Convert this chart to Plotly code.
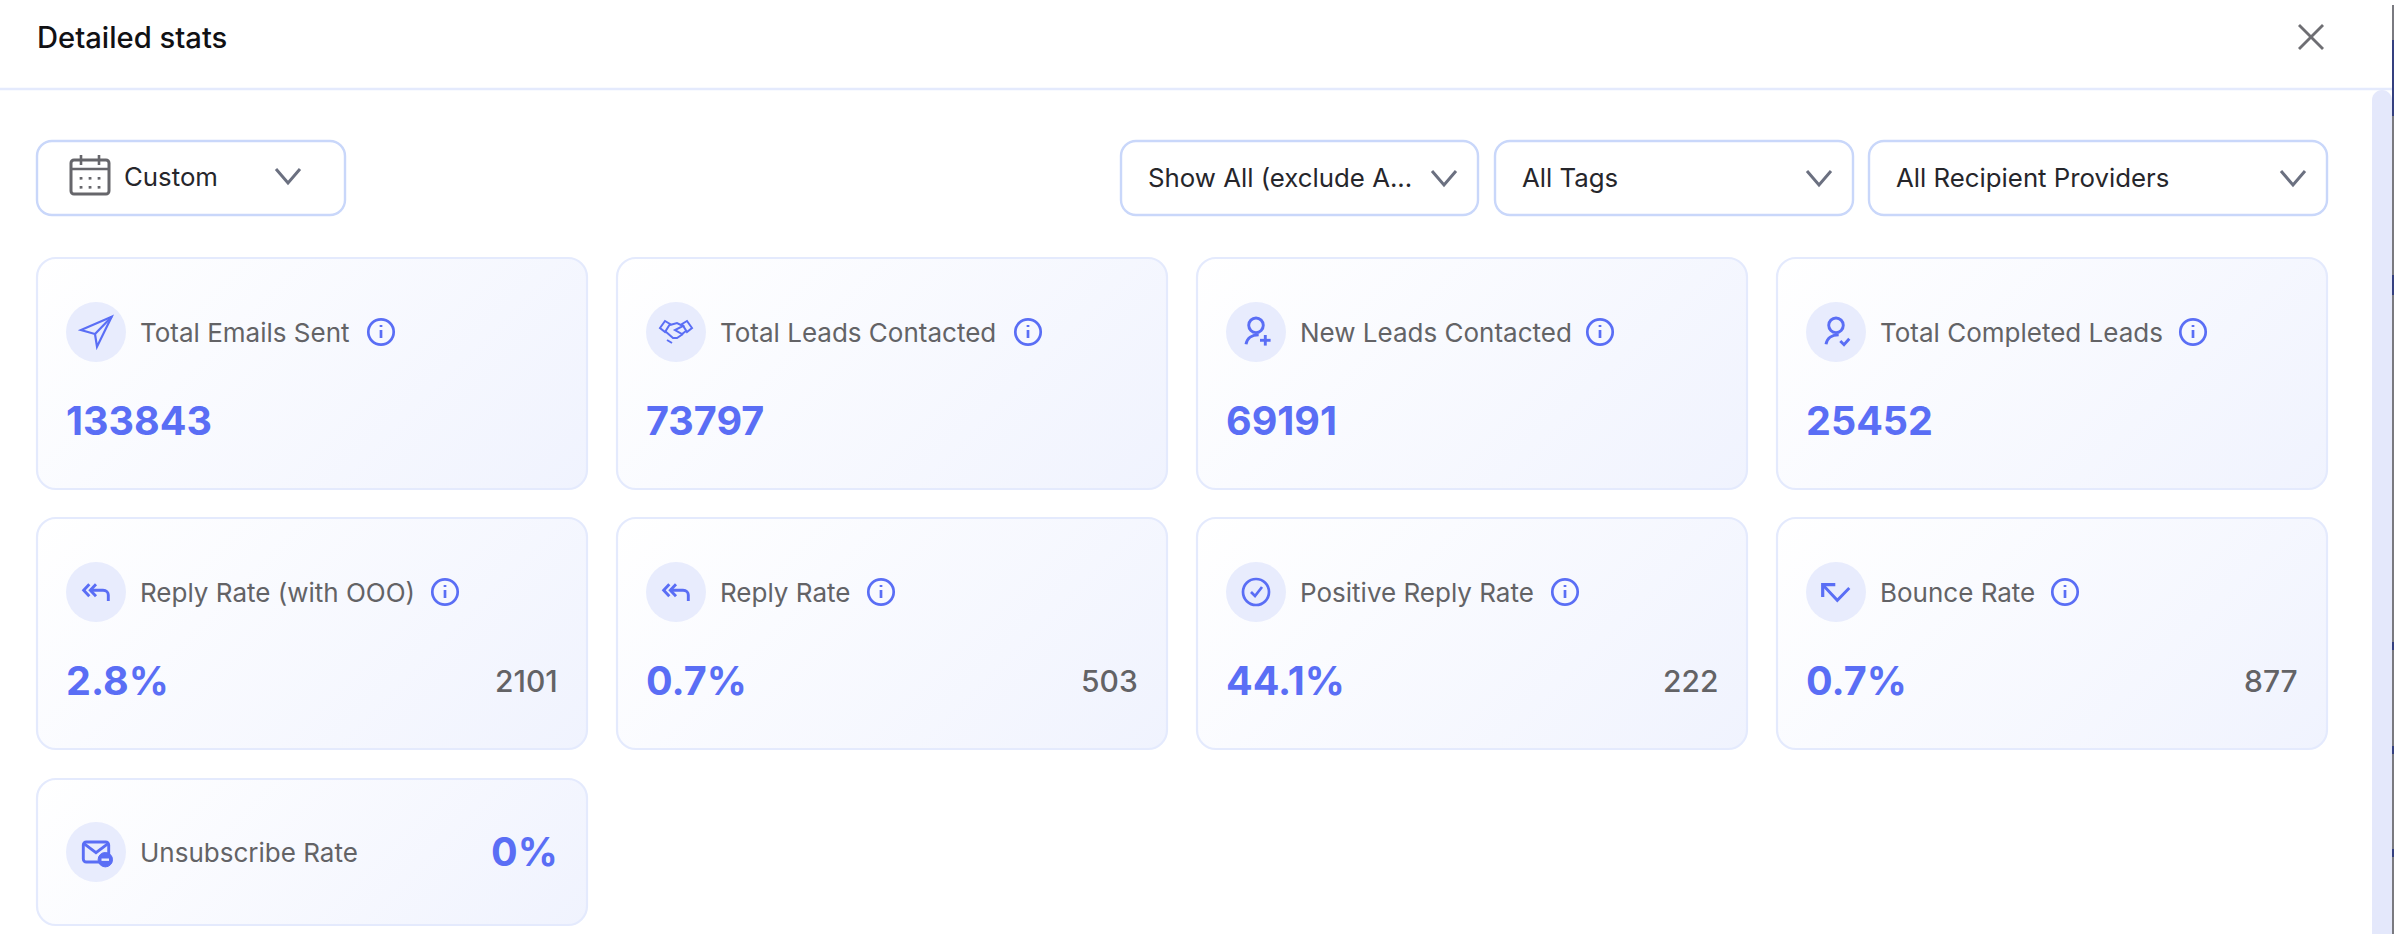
import base64
import plotly.graph_objects as go

# ======================================================================
#                       DATA
# ======================================================================

title_text = "Detailed stats"
date_filter = "Custom"
filter_labels = ["Show All (exclude A...", "All Tags", "All Recipient Providers"]

top_labels = ["Total Emails Sent", "Total Leads Contacted", "New Leads Contacted", "Total Completed Leads"]
top_values = ["133843", "73797", "69191", "25452"]

rate_labels = ["Reply Rate (with OOO)", "Reply Rate", "Positive Reply Rate", "Bounce Rate"]
rate_values = ["2.8%", "0.7%", "44.1%", "0.7%"]
rate_counts = ["2101", "503", "222", "877"]

unsub_label = "Unsubscribe Rate"
unsub_value = "0%"

# ======================================================================
#                       LAYOUT CONSTANTS
# ======================================================================

W, H = 2394, 934
FONT = "Inter"
BLUE = "#5A6EF5"
GREY = "#636366"
TEXT_DARK = "#26262B"
BORDER = "#E4EAFD"
FILTER_BORDER = "#C9D7FA"
ICON_BG = "#E8ECFD"

LABEL_SIZE = 26
FILTER_SIZE = 25.8

CARD_X = [37, 617, 1197, 1777]
CARD_W = 550
ROWS = [(258, 231), (518, 231), (779, 146)]

# info icon centre, measured from the card's left edge
top_info_dx = [344, 411, 403, 416]
rate_info_dx = [408, 264, 368, 288]

shapes, annotations, images = [], [], []


def rrect(x0, y0, x1, y1, r):
    k = r * 0.45
    return (f"M{x0 + r},{y0} L{x1 - r},{y0} C{x1 - k},{y0} {x1},{y0 + k} {x1},{y0 + r} "
            f"L{x1},{y1 - r} C{x1},{y1 - k} {x1 - k},{y1} {x1 - r},{y1} "
            f"L{x0 + r},{y1} C{x0 + k},{y1} {x0},{y1 - k} {x0},{y1 - r} "
            f"L{x0},{y0 + r} C{x0},{y0 + k} {x0 + k},{y0} {x0 + r},{y0} Z")


def add_path(path, color=BLUE, width=2.5, fill=None):
    shapes.append(dict(type="path", path=path, xref="x", yref="y", layer="above",
                       line=dict(color=color, width=width), fillcolor=fill or "rgba(0,0,0,0)"))


def poly(cx, cy, pts, color=BLUE, width=2.5, close=False, fill=None):
    d = "M" + " L".join(f"{cx + a},{cy + b}" for a, b in pts)
    add_path(d + (" Z" if close else ""), color, width, fill)


def circle(cx, cy, r, color=BLUE, width=2.5, fill=None):
    shapes.append(dict(type="circle", xref="x", yref="y", x0=cx - r, x1=cx + r, y0=cy - r, y1=cy + r,
                       layer="above", line=dict(color=color, width=width),
                       fillcolor=fill or "rgba(0,0,0,0)"))


def text(x, y, s, size, color=GREY, weight=400, anchor="left"):
    annotations.append(dict(x=x, y=y, xref="x", yref="y", text=s, showarrow=False, xanchor=anchor,
                            yanchor="middle", borderpad=0, borderwidth=0,
                            font=dict(family=FONT, size=size, color=color, weight=weight)))


def chevron(cx, cy, hw=12, hh=7, color="#6B7080"):
    poly(cx, cy, [(-hw, -hh), (0, hh), (hw, -hh)], color, 3)


def card_background(x, y, w, h):
    # plotly shapes have no gradient fill, so the 135deg tint goes in as a layout image
    half = (w + h) / 4
    x1, y1, x2, y2 = w / 2 - half, h / 2 - half, w / 2 + half, h / 2 + half
    svg = (f'<svg xmlns="http://www.w3.org/2000/svg" width="{w}" height="{h}" viewBox="0 0 {w} {h}">'
           f'<defs><linearGradient id="g" gradientUnits="userSpaceOnUse" x1="{x1}" y1="{y1}" x2="{x2}" y2="{y2}">'
           '<stop offset="0" stop-color="#FFFFFF"/><stop offset="1" stop-color="#F0F3FE"/>'
           '</linearGradient></defs>'
           f'<rect x="0" y="0" width="{w}" height="{h}" rx="19" ry="19" fill="url(#g)"/></svg>')
    src = "data:image/svg+xml;base64," + base64.b64encode(svg.encode()).decode()
    images.append(dict(source=src, xref="x", yref="y", x=x, y=y, sizex=w, sizey=h,
                       xanchor="left", yanchor="top", sizing="stretch", layer="below"))
    add_path(rrect(x, y, x + w, y + h, 19), BORDER, 2.2)


# ======================================================================
#                       ICONS
# ======================================================================

def icon_plane(c, d):
    poly(c, d, [(15.7, -15.3), (-15, -2), (-1, 2), (1, 14.7)], close=True, width=2.2)
    poly(c, d, [(15.7, -15.3), (-1, 2)], width=2.2)


def icon_hands(c, d):
    poly(c, d, [(-16, -4), (-11, -11), (-6, -8), (-11, 0)], close=True, width=2)
    poly(c, d, [(16, -4), (11, -11), (6, -8), (11, 0)], close=True, width=2)
    poly(c, d, [(-6, -7), (1, -9), (7, -6), (-1, -2), (6, 2), (10, -1)], width=2)
    poly(c, d, [(-11, -1), (-3, 6), (1, 6), (7, 2)], width=2)
    poly(c, d, [(-9, 8), (-4, 11)], width=2)


def icon_person(c, d):
    circle(c, d - 6.7, 7.3, width=2.9)
    add_path(f"M{c - 10},{d + 12.3} C{c - 9},{d + 6} {c - 4},{d + 2.7} {c + 2.7},{d + 2.7}", width=2.9)


def icon_person_plus(c, d):
    icon_person(c, d)
    poly(c, d, [(4, 8.3), (14.6, 8.3)], width=2.9)
    poly(c, d, [(9.3, 3), (9.3, 13.6)], width=2.9)


def icon_person_check(c, d):
    icon_person(c, d)
    poly(c, d, [(4.3, 9), (8, 12.7), (13.3, 6.7)], width=2.9)


def icon_reply(c, d):
    poly(c, d, [(-6.7, -7.7), (-12.3, -1.7), (-6.7, 4.3)], width=2.9)
    poly(c, d, [(0, -7.7), (-5.7, -1.7), (0, 4.3)], width=2.9)
    add_path(f"M{c - 5.7},{d - 1.7} L{c + 7},{d - 1.7} C{c + 10.5},{d - 1.7} {c + 12.3},{d + 0.5} "
             f"{c + 12.3},{d + 3} L{c + 12.3},{d + 9}", width=2.9)


def icon_check(c, d):
    circle(c, d, 13, width=2.7)
    poly(c, d, [(-5, 0), (-1, 4), (6, -5)], width=2.7)


def icon_bounce(c, d):
    poly(c, d, [(-13.3, 5), (-13.3, -7.3), (-0.7, -7.3)], width=3.2)
    poly(c, d, [(-13.3, -7.3), (1.3, 8.3), (13.3, -4)], width=2.9)


def icon_unsub(c, d):
    add_path(rrect(c - 12.7, d - 10, c + 12.7, d + 10, 3), width=2.9)
    poly(c, d, [(-12, -8.3), (0, 0.7), (12, -8.3)], width=2.9)
    circle(c + 9.3, d + 7.7, 7.2, color=BLUE, width=1, fill=BLUE)
    poly(c, d, [(5.5, 7.7), (13, 7.7)], color=ICON_BG, width=2.4)


def icon_info(c, d):
    circle(c, d, 12.7, width=2.7)
    poly(c, d, [(0, -2), (0, 6)], width=2.7)
    poly(c, d, [(0, -7), (0, -5)], width=2.7)


def icon_calendar(cx, cy):
    col = "#66666B"
    add_path(rrect(cx - 19, cy - 16, cx + 19, cy + 18, 3), col, 3)
    poly(cx, cy, [(-19, -7), (19, -7)], col, 2.6)
    for dx in (-9, 9):
        poly(cx, cy, [(dx, -21), (dx, -11)], col, 2.6)
    for dx in (-9, 0, 9):
        for dy in (1, 10):
            poly(cx, cy, [(dx, dy), (dx + 0.1, dy + 2.6)], col, 2.8)


top_icons = [icon_plane, icon_hands, icon_person_plus, icon_person_check]
rate_icons = [icon_reply, icon_reply, icon_check, icon_bounce]

# ======================================================================
#                       HEADER AND FILTERS
# ======================================================================

text(37, 37, title_text, 29.2, "#111114", 500)
poly(2311, 37, [(-12, -12), (12, 12)], "#6E6E73", 2.8)
poly(2311, 37, [(-12, 12), (12, -12)], "#6E6E73", 2.8)
shapes.append(dict(type="line", xref="x", yref="y", x0=0, x1=2392, y0=89, y1=89,
                   line=dict(color=BORDER, width=2.4)))

# scrollbar and the strip of window edge behind it
add_path(rrect(2372, 90, 2392, 1000, 10), "rgba(0,0,0,0)", 0, "#E4E8FB")
shapes.append(dict(type="rect", xref="x", yref="y", x0=2392, x1=2394, y0=5, y1=H,
                   line=dict(width=0), fillcolor="#7A7A80", layer="above"))
for y0, y1 in [(40, 116), (275, 295), (642, 650), (746, 754), (849, 857)]:
    shapes.append(dict(type="rect", xref="x", yref="y", x0=2392, x1=2394, y0=y0, y1=y1,
                       line=dict(width=0), fillcolor="#35407F", layer="above"))

add_path(rrect(37, 141, 345, 215, 15), FILTER_BORDER, 2.4, "#FFFFFF")
icon_calendar(90, 176)
text(124, 176.5, date_filter, FILTER_SIZE, TEXT_DARK, 400)
chevron(288, 176)

filter_boxes = [(1121, 1478), (1495, 1853), (1869, 2327)]
for (x0, x1), label in zip(filter_boxes, filter_labels):
    add_path(rrect(x0, 141, x1, 215, 15), FILTER_BORDER, 2.4, "#FFFFFF")
    text(x0 + 27, 177.5, label, FILTER_SIZE, TEXT_DARK, 400)
    chevron(x1 - 34, 178)

# ======================================================================
#                       CARDS
# ======================================================================

for i in range(4):
    x, (y, h) = CARD_X[i], ROWS[0]
    card_background(x, y, CARD_W, h)
    circle(x + 59, y + 74, 30, color=ICON_BG, width=0, fill=ICON_BG)
    top_icons[i](x + 59, y + 74)
    text(x + 103, y + 74, top_labels[i], LABEL_SIZE)
    icon_info(x + top_info_dx[i], y + 74)
    text(x + 29, y + 162.5, top_values[i], 39.5, BLUE, 700)

for i in range(4):
    x, (y, h) = CARD_X[i], ROWS[1]
    card_background(x, y, CARD_W, h)
    circle(x + 59, y + 74, 30, color=ICON_BG, width=0, fill=ICON_BG)
    rate_icons[i](x + 59, y + 74)
    text(x + 103, y + 74, rate_labels[i], LABEL_SIZE)
    icon_info(x + rate_info_dx[i], y + 74)
    text(x + 29, y + 162.5, rate_values[i], 39.5, BLUE, 700)
    text(x + 521, y + 163, rate_counts[i], 30, GREY, 500, anchor="right")

x, (y, h) = CARD_X[0], ROWS[2]
card_background(x, y, CARD_W, h)
circle(x + 59, y + 73, 30, color=ICON_BG, width=0, fill=ICON_BG)
icon_unsub(x + 59, y + 73)
text(x + 103, y + 73, unsub_label, LABEL_SIZE)
text(x + 521, y + 73, unsub_value, 39.5, BLUE, 700, anchor="right")

# ======================================================================
#                       FIGURE
# ======================================================================

fig = go.Figure()
fig.update_layout(
    width=W, height=H,
    margin=dict(l=0, r=0, t=0, b=0),
    paper_bgcolor="#FFFFFF", plot_bgcolor="#FFFFFF",
    showlegend=False,
    xaxis=dict(range=[0, W], visible=False, fixedrange=True),
    yaxis=dict(range=[H, 0], visible=False, fixedrange=True),
    shapes=shapes, annotations=annotations, images=images,
)

fig.write_html("out.html", config=dict(displayModeBar=False),
               post_script="document.body.style.margin='0';document.body.style.overflow='hidden';")
